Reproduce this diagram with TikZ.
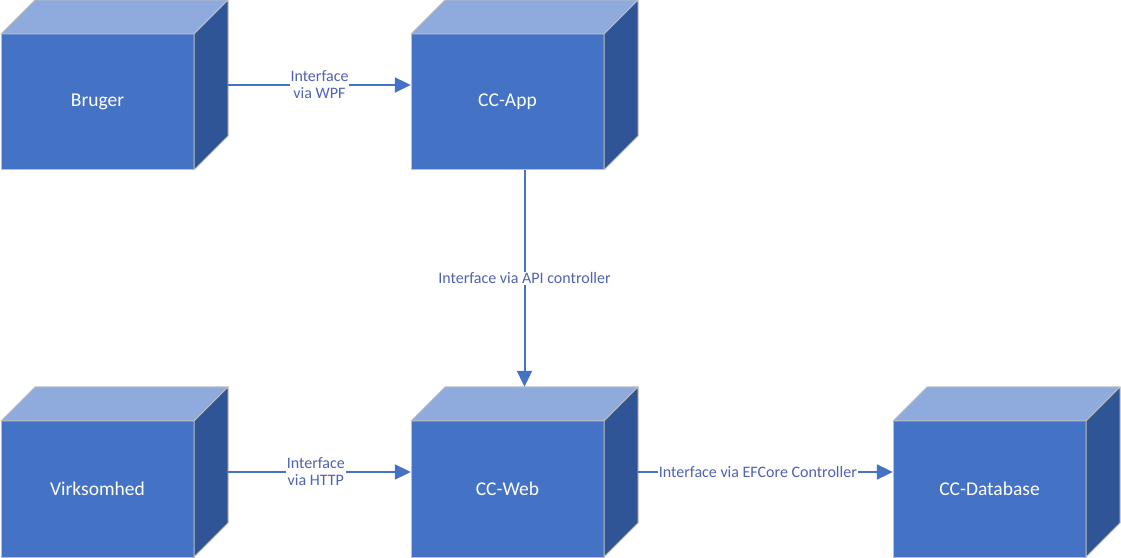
\documentclass[tikz,border=0pt]{standalone}
\usepackage{fontspec}
\setmainfont{Carlito}
\usepackage{tikz}
\usetikzlibrary{positioning, calc, arrows.meta, fit}

\definecolor{frontblue}{HTML}{4472C4}
\definecolor{topblue}{HTML}{8FAADC}
\definecolor{sideblue}{HTML}{2F5597}
\definecolor{edgegray}{HTML}{BFBFBF}
\definecolor{labelblue}{HTML}{4F62B4}

\begin{document}
\begin{tikzpicture}[x=1pt, y=1pt,
    front/.style={draw=edgegray, line width=1pt, fill=frontblue, minimum width=193pt,
        minimum height=136pt, inner sep=0pt, outer sep=0pt, text=white,
        font=\fontsize{19.5}{22}\selectfont},
    face/.style={draw=edgegray, line width=1pt, line join=round},
    link/.style={draw=frontblue, line width=2pt, -{Triangle[length=16pt, width=15pt]}},
    tag/.style={fill=white, text=labelblue, inner sep=1pt, align=center,
        font=\fontsize{16}{17}\selectfont}]

    % Canvas
    \fill[white] (0,0) rectangle (1121,557);
    \useasboundingbox (0,0) rectangle (1121,557);

    % --- FRONT FACES ---
    \node[front] (bruger) at (97.5,455) {Bruger};
    \node[front, right=217pt of bruger] (ccapp) {CC-App};
    \node[front, below=251pt of bruger] (virk) {Virksomhed};
    \node[front, right=217pt of virk] (ccweb) {CC-Web};
    \node[front, right=289pt of ccweb] (ccdb) {CC-Database};

    % --- TOP AND SIDE FACES ---
    \foreach \n in {bruger, ccapp, virk, ccweb, ccdb} {
        \draw[face, fill=topblue] (\n.north west) -- ++(34,34)
            -- ($(\n.north east)+(34,34)$) -- (\n.north east) -- cycle;
        \draw[face, fill=sideblue] (\n.north east) -- ++(34,34)
            -- ++(0,-136) -- (\n.south east) -- cycle;
        % whole cube, used by the connectors
        \coordinate (\n-back) at ($(\n.north east)+(34,34)$);
        \node[fit=(\n)(\n-back), inner sep=0pt] (\n-box) {};
    }

    % --- CONNECTORS ---
    \draw[link] (bruger-box) -- node[tag, pos=0.5] {Interface\\via WPF} (ccapp-box);
    \draw[link] (ccapp-box) -- node[tag] {Interface via API controller} (ccweb-box);
    \draw[link] (virk-box) -- node[tag, pos=0.48] {Interface\\via HTTP} (ccweb-box);
    \draw[link] (ccweb-box) -- node[tag, pos=0.47] {Interface via EFCore Controller} (ccdb-box);

\end{tikzpicture}
\end{document}
